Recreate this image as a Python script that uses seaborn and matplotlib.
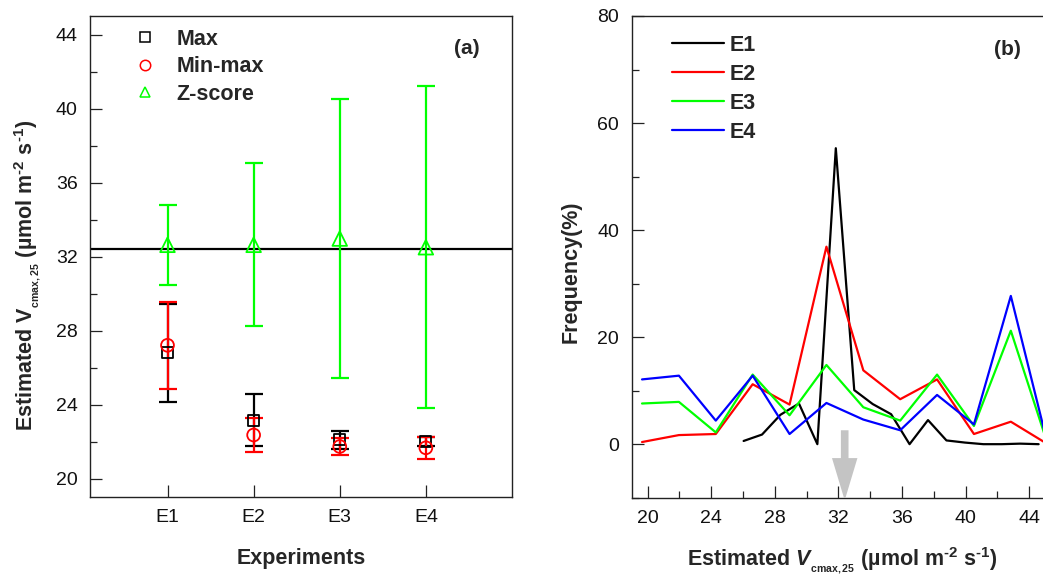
import numpy as np
import pandas as pd
import matplotlib
matplotlib.use("Agg")
import matplotlib.pyplot as plt
from matplotlib.lines import Line2D
from matplotlib.ticker import MultipleLocator
import seaborn as sns

# ---- panel (a): estimated Vcmax,25 per experiment and normalisation ----
experiments = ["E1", "E2", "E3", "E4"]
max_mean = [26.8, 23.15, 22.1, 22.0]
max_err = [2.65, 1.40, 0.48, 0.25]
minmax_mean = [27.2, 22.35, 21.73, 21.66]
minmax_err = [2.35, 0.92, 0.46, 0.60]
zscore_mean = [32.63, 32.63, 32.97, 32.50]
zscore_err = [2.18, 4.40, 7.52, 8.69]
reference_vcmax = 32.4

# ---- panel (b): frequency distributions of estimated Vcmax,25 ----
e1_x = [26.04, 27.2, 28.36, 29.52, 30.68, 31.84, 33.0, 34.16, 35.32,
        36.48, 37.64, 38.8, 39.96, 41.12, 42.28, 43.44, 44.6]
e1_y = [0.6, 1.8, 5.5, 7.6, 0.0, 55.3, 10.1, 7.5, 5.6,
        0.0, 4.5, 0.7, 0.3, 0.0, 0.0, 0.1, 0.0]
e234_x = [19.65, 21.97, 24.29, 26.61, 28.93, 31.25, 33.57, 35.89,
          38.21, 40.53, 42.85, 45.17]
e2_y = [0.4, 1.7, 1.9, 11.2, 7.4, 36.9, 13.8, 8.4, 12.1, 1.9, 4.2, 0.0]
e3_y = [7.6, 7.9, 2.2, 13.0, 5.4, 14.8, 6.9, 4.4, 13.0, 3.4, 21.2, 0.0]
e4_y = [12.1, 12.8, 4.4, 12.8, 1.9, 7.7, 4.6, 2.6, 9.2, 3.7, 27.7, 0.0]

sns.set_theme(style="ticks")
plt.rcParams["font.family"] = ["Liberation Sans", "DejaVu Sans"]
plt.rcParams["mathtext.fontset"] = "custom"
plt.rcParams["mathtext.rm"] = "Liberation Sans:bold"
plt.rcParams["mathtext.bf"] = "Liberation Sans:bold"
plt.rcParams["mathtext.it"] = "Liberation Sans:bold:italic"

W, H = 1043, 580
fig = plt.figure(figsize=(W / 100, H / 100), dpi=100)
ax1 = fig.add_axes([90 / W, 1 - 497 / H, (512 - 90) / W, (497 - 16) / H])
ax2 = fig.add_axes([631.7 / W, 1 - 497.7 / H, (1045 - 631.7) / W, (497.7 - 16) / H])

spine_col = "#222222"
tick_fs = 14
label_fs = 15.5

def style_axes(ax):
    for s in ax.spines.values():
        s.set_linewidth(1.0)
        s.set_color(spine_col)
    ax.tick_params(which="both", direction="in", colors=spine_col,
                   labelcolor="#111111", labelsize=tick_fs, top=False, right=False)
    ax.tick_params(which="major", length=8.5, width=0.9, pad=9)
    ax.tick_params(which="minor", length=5, width=0.9)

# small, low-set subscript and hyphen-style superscripts for the unit labels
unit_part = r" (µmol m$^{\text{-2}}$ s$^{\text{-1}}$)"
vcmax_upright = r"Estimated $\mathrm{V}_{{}_{\mathrm{cmax,25}}}$" + unit_part
vcmax_italic = r"Estimated $\mathit{V}_{{}_{\mathrm{cmax,25}}}$" + unit_part

# ---------------- panel (a) ----------------
pos = np.arange(1, len(experiments) + 1)
series_a = [
    ("Max", max_mean, max_err, "black", "s", 62),
    ("Min-max", minmax_mean, minmax_err, "#ff0000", "o", 85),
    ("Z-score", zscore_mean, zscore_err, "#00ff00", "^", 110),
]
ax1.axhline(reference_vcmax, color="black", lw=1.6, zorder=1)
for i, (name, mean, err, col, mk, size) in enumerate(series_a):
    ax1.errorbar(pos, mean, yerr=err, fmt="none", ecolor=col, elinewidth=1.6,
                 capsize=6.5, capthick=1.6, zorder=2 + i)
    sns.scatterplot(x=pos, y=mean, marker=mk, s=size, facecolor="none",
                    edgecolor=col, linewidth=1.3, ax=ax1, zorder=5 + i)

ax1.set_xlim(0.1, 5)
ax1.set_xticks(pos)
ax1.set_xticklabels(experiments)
ax1.yaxis.set_minor_locator(MultipleLocator(2))
ax1.set_yticks([20, 24, 28, 32, 36, 40, 44])
style_axes(ax1)
ax1.set_ylim(19, 45)

ax1.set_xlabel("Experiments", fontsize=label_fs, fontweight="bold")
ax1.set_ylabel(vcmax_upright, fontsize=label_fs, fontweight="bold")
ax1.xaxis.set_label_coords(0.5, -0.105)
ax1.yaxis.set_label_coords(-0.112, 0.46)

handles_a = [Line2D([], [], ls="none", marker=mk, mfc="none", mec=col,
                    mew=1.1, ms=7.5) for _, _, _, col, mk, _ in series_a]
ax1.legend(handles_a, [s[0] for s in series_a], loc="upper left",
           bbox_to_anchor=(0.075, 1.0), frameon=False,
           prop={"weight": "bold", "size": label_fs},
           handlelength=1.0, handletextpad=0.95, labelspacing=0.3,
           borderaxespad=0.2)
ax1.text(0.893, 0.932, "(a)", transform=ax1.transAxes, ha="center", va="center",
         fontsize=15, fontweight="bold")

# ---------------- panel (b) ----------------
freq = pd.concat([
    pd.DataFrame({"vcmax": e1_x, "freq": e1_y, "exp": "E1"}),
    pd.DataFrame({"vcmax": e234_x, "freq": e2_y, "exp": "E2"}),
    pd.DataFrame({"vcmax": e234_x, "freq": e3_y, "exp": "E3"}),
    pd.DataFrame({"vcmax": e234_x, "freq": e4_y, "exp": "E4"}),
], ignore_index=True)
line_cols = {"E1": "black", "E2": "#ff0000", "E3": "#00ff00", "E4": "#0000ff"}
sns.lineplot(data=freq, x="vcmax", y="freq", hue="exp", palette=line_cols,
             estimator=None, sort=False, linewidth=1.6, legend=False, ax=ax2)

ax2.arrow(reference_vcmax, 2.6, 0, -13.1, width=0.48, head_width=1.6,
          head_length=7.9, length_includes_head=True, color="#c4c4c4",
          lw=0, zorder=6)

ax2.set_xticks([20, 24, 28, 32, 36, 40, 44])
ax2.xaxis.set_minor_locator(MultipleLocator(2))
ax2.set_yticks([0, 20, 40, 60, 80])
ax2.yaxis.set_minor_locator(MultipleLocator(10))
style_axes(ax2)
ax2.set_ylim(-10, 80)
ax2.set_xlim(19, 45)

ax2.set_xlabel(vcmax_italic, fontsize=label_fs, fontweight="bold")
ax2.set_ylabel("Frequency(%)", fontsize=label_fs, fontweight="bold")
ax2.xaxis.set_label_coords(0.51, -0.10)
ax2.yaxis.set_label_coords(-0.12, 0.469)

handles_b = [Line2D([], [], color=c, lw=1.6) for c in line_cols.values()]
ax2.legend(handles_b, list(line_cols.keys()), loc="upper left",
           bbox_to_anchor=(0.066, 0.988), frameon=False,
           prop={"weight": "bold", "size": label_fs},
           handlelength=2.4, handletextpad=0.3, labelspacing=0.37,
           borderaxespad=0.2)
ax2.text(0.908, 0.93, "(b)", transform=ax2.transAxes, ha="center", va="center",
         fontsize=15, fontweight="bold")

fig.savefig("out.png", dpi=100)
